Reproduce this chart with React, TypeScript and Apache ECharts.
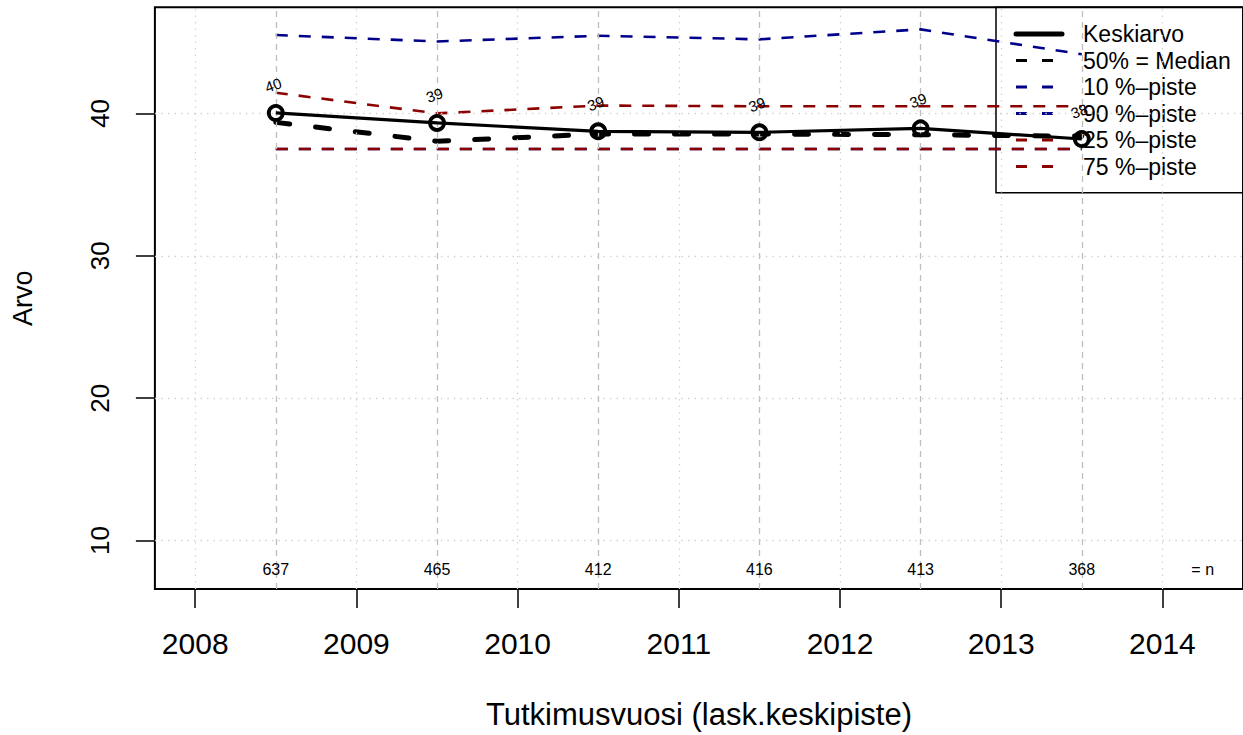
import React, { useEffect, useRef } from "react";
import * as echarts from "echarts";

const years = [2008.5, 2009.5, 2010.5, 2011.5, 2012.5, 2013.5];
const meanVals = [40.03, 39.33, 38.74, 38.67, 38.95, 38.2];
const medianVals = [39.37, 38.04, 38.55, 38.55, 38.5, 38.4];
const p10Vals = [37.5, 37.5, 37.5, 37.5, 37.5, 37.5];
const p90Vals = [45.5, 45.05, 45.45, 45.2, 45.9, 44.15];
const p25Vals = [37.5, 37.5, 37.5, 37.5, 37.5, 37.5];
const p75Vals = [41.45, 40.0, 40.55, 40.5, 40.5, 40.5];
const nVals = [637, 465, 412, 416, 413, 368];
const xTicks = [2008, 2009, 2010, 2011, 2012, 2013, 2014];
const yTicks = [10, 20, 30, 40];
const legendNames = ["Keskiarvo", "50% = Median", "10 %\u2013piste", "90 %\u2013piste", "25 %\u2013piste", "75 %\u2013piste"];

const FONT = "'Liberation Sans', Arial, Helvetica, sans-serif";
const BLUE = "#00008B";
const RED = "#8B0000";

export default function App() {
  const ref = useRef<HTMLDivElement>(null);
  useEffect(() => {
    if (!ref.current) return;
    const chart = echarts.init(ref.current, null, { renderer: "svg" });
    const pair = (vals: number[]) => years.map((x, i) => [x, vals[i]]);

    const legendStyles = [
      { color: "#000", width: 5, dash: null as number[] | null },
      { color: "#000", width: 3, dash: [11, 15] },
      { color: BLUE, width: 3, dash: [11, 15] },
      { color: BLUE, width: 3, dash: [11, 15] },
      { color: RED, width: 3, dash: [11, 15] },
      { color: RED, width: 3, dash: [11, 15] },
    ];
    const legendTop = 34;
    const legendStep = 26.5;
    const legendGraphics: any[] = [
      {
        type: "rect",
        shape: { x: 996, y: 7.3, width: 300, height: 185.4 },
        style: { fill: "transparent", stroke: "#000", lineWidth: 1.5 },
        z: 1,
      },
    ];
    legendNames.forEach((name, i) => {
      const y = legendTop + i * legendStep;
      const st = legendStyles[i];
      legendGraphics.push({
        type: "line",
        shape: { x1: 1016, y1: y, x2: st.dash ? 1053 : 1062, y2: y },
        style: {
          stroke: st.color,
          lineWidth: st.width,
          lineDash: st.dash || undefined,
          lineCap: st.dash ? "butt" : "round",
        },
        z: 1,
      });
      legendGraphics.push({
        type: "text",
        x: 1083,
        y: y,
        style: {
          text: name,
          font: `23px ${FONT}`,
          fill: "#000",
          textVerticalAlign: "middle",
          verticalAlign: "middle",
          align: "left",
        },
        z: 1,
      });
    });

    const gridMark = {
      silent: true,
      symbol: "none",
      label: { show: false },
      animation: false,
      data: [
        ...xTicks.map((x) => ({ xAxis: x, lineStyle: { color: "#D3D3D3", type: [1.5, 5], width: 1.3 } })),
        ...years.map((x) => ({ xAxis: x, lineStyle: { color: "#BEBEBE", type: [6, 5], width: 1.3 } })),
        ...yTicks.map((y) => ({ yAxis: y, lineStyle: { color: "#D3D3D3", type: [1.5, 5], width: 1.3 } })),
      ],
    };

    const pctLine = (name: string, vals: number[], color: string, z: number) => ({
      name,
      type: "line",
      data: pair(vals),
      symbol: "none",
      z,
      lineStyle: { color, width: 2.6, type: [12, 11] },
    });

    const option: any = {
      animation: false,
      backgroundColor: "#fff",
      textStyle: { fontFamily: FONT },
      grid: {
        show: true,
        left: 154.9,
        top: 7.3,
        width: 1091.5,
        height: 583.2,
        borderColor: "#000",
        borderWidth: 2,
        backgroundColor: "transparent",
      },
      xAxis: {
        type: "value",
        min: 2007.75,
        max: 2014.5,
        axisLine: { show: false },
        splitLine: { show: false },
        axisTick: {
          show: true,
          customValues: xTicks,
          length: 19,
          lineStyle: { color: "#000", width: 1.5 },
        },
        axisLabel: {
          customValues: xTicks,
          fontSize: 30,
          color: "#000",
          margin: 39,
          fontFamily: FONT,
          formatter: (v: number) => String(v),
        },
        name: "Tutkimusvuosi (lask.keskipiste)",
        nameLocation: "middle",
        nameGap: 110,
        nameTextStyle: { fontSize: 31, color: "#000", fontFamily: FONT },
      },
      yAxis: {
        type: "value",
        min: 6.6,
        max: 47.45,
        axisLine: { show: false },
        splitLine: { show: false },
        axisTick: {
          show: true,
          customValues: yTicks,
          length: 19,
          lineStyle: { color: "#000", width: 1.5 },
        },
        axisLabel: {
          customValues: yTicks,
          rotate: 90,
          fontSize: 26,
          color: "#000",
          margin: 42,
          fontFamily: FONT,
          formatter: (v: number) => String(v),
        },
        name: "Arvo",
        nameLocation: "middle",
        nameRotate: 90,
        nameGap: 118,
        nameTextStyle: { fontSize: 27, color: "#000", fontFamily: FONT },
      },
      graphic: legendGraphics,
      series: [
        {
          name: "grid",
          type: "line",
          data: [],
          z: 0,
          markLine: gridMark,
        },
        pctLine(legendNames[2], p10Vals, BLUE, 2),
        pctLine(legendNames[3], p90Vals, BLUE, 2),
        pctLine(legendNames[4], p25Vals, RED, 3),
        pctLine(legendNames[5], p75Vals, RED, 3),
        {
          name: legendNames[1],
          type: "line",
          data: pair(medianVals),
          symbol: "none",
          z: 4,
          lineStyle: { color: "#000", width: 5, type: [14, 26], cap: "round" },
        },
        {
          name: legendNames[0],
          type: "line",
          data: pair(meanVals),
          symbol: "circle",
          symbolSize: 14,
          z: 5,
          lineStyle: { color: "#000", width: 3.2 },
          itemStyle: { color: "transparent", borderColor: "#000", borderWidth: 3.8 },
          label: {
            show: true,
            position: "top",
            distance: 12,
            rotate: 20,
            fontSize: 15,
            color: "#000",
            fontFamily: FONT,
            formatter: (p: any) => String(Math.round(p.value[1])),
          },
        },
        {
          name: "n",
          type: "scatter",
          data: [...years.map((x, i) => [x, 7.95, String(nVals[i])]), [2014.25, 7.95, "= n"]],
          symbolSize: 1,
          z: 5,
          itemStyle: { color: "transparent", opacity: 1 },
          label: {
            show: true,
            position: "inside",
            fontSize: 16,
            color: "#000",
            opacity: 1,
            fontFamily: FONT,
            formatter: (p: any) => p.value[2],
          },
        },
      ],
    };
    chart.setOption(option);
    return () => chart.dispose();
  }, []);
  return (
    <div
      ref={ref}
      style={{ position: "fixed", left: 0, top: 0, width: 1243, height: 735, background: "#fff" }}
    />
  );
}
